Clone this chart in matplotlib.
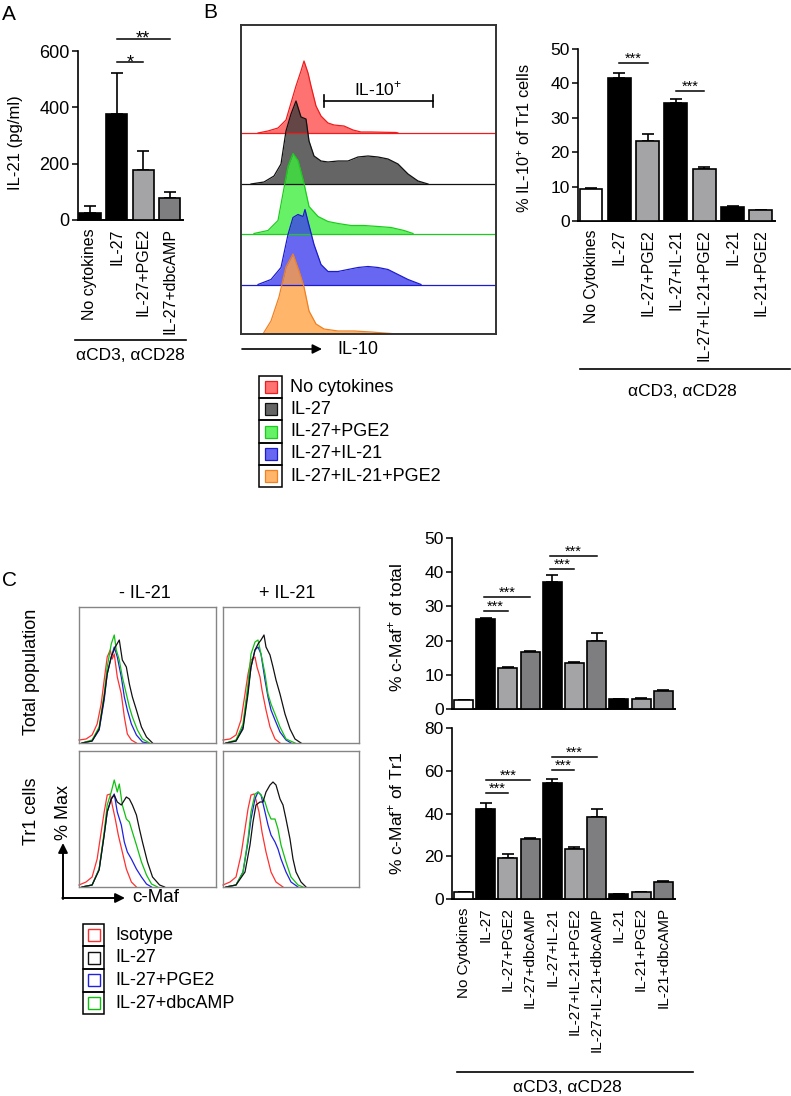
import matplotlib.pyplot as plt
import matplotlib.transforms as mtrans
import matplotlib.colors as mcolors
from matplotlib.patches import Rectangle
import numpy as np

plt.rcParams['font.family'] = ['Liberation Sans', 'DejaVu Sans']
plt.rcParams['mathtext.fontset'] = 'custom'
plt.rcParams['mathtext.rm'] = 'Liberation Sans'
plt.rcParams['axes.linewidth'] = 1.1

W, H = 791, 1096
fig = plt.figure(figsize=(W / 100, H / 100), dpi=100)

LIGHT = '#a4a4a7'
MID = '#7e7e80'

# ---- panel A : IL-21 ELISA ----
a_groups = ['No cytokines', 'IL-27', 'IL-27+PGE2', 'IL-27+dbcAMP']
a_mean = [24, 375, 176, 78]
a_err = [27, 148, 70, 21]
a_colors = ['black', 'black', LIGHT, MID]

# ---- panel B : IL-10 histograms (channel, count) ----
hb_nocyt_x = [17, 27, 37, 45, 50, 55, 60, 63, 67, 70, 75, 80, 87, 93, 103, 112, 120, 130, 155, 157]
hb_nocyt_y = [0, 2, 5, 13, 30, 47, 62, 72, 60, 47, 27, 17, 10, 8, 7, 3, 1, 1, 0.5, 0]
hb_il27_x = [10, 23, 33, 40, 45, 50, 55, 60, 65, 68, 73, 80, 87, 97, 107, 117, 127, 137, 147, 157, 167, 177, 187]
hb_il27_y = [0, 2, 8, 20, 53, 70, 83, 67, 65, 43, 28, 23, 22, 23, 23, 27, 28, 27, 25, 20, 10, 3, 0]
hb_pge2_x = [13, 27, 37, 42, 47, 52, 57, 63, 68, 77, 87, 97, 110, 123, 137, 150, 163, 172]
hb_pge2_y = [0, 3, 13, 40, 67, 80, 73, 50, 27, 17, 12, 10, 8, 8, 7, 6, 3, 0]
hb_il21_x = [17, 30, 40, 47, 52, 57, 62, 64, 67, 73, 80, 87, 97, 107, 117, 127, 137, 147, 157, 167, 180]
hb_il21_y = [0, 5, 17, 50, 67, 70, 68, 75, 63, 40, 20, 13, 13, 15, 17, 18, 17, 15, 10, 5, 0]
hb_il21pge2_x = [22, 30, 38, 45, 52, 58, 63, 68, 75, 83, 97, 113, 130, 143, 157]
hb_il21pge2_y = [0, 13, 37, 67, 80, 63, 47, 23, 10, 5, 3, 3, 2, 1, 0]
hb_labels = ['No cytokines', 'IL-27', 'IL-27+PGE2', 'IL-27+IL-21', 'IL-27+IL-21+PGE2']
hb_fill = ['#ff4a4a', '#3a3a3a', '#3cee3c', '#3c3cee', '#ffa040']
hb_line = ['#ee1c1c', '#111111', '#1ccc1c', '#1c1ccc', '#f08020']

# ---- panel B : % IL-10+ of Tr1 ----
b_groups = ['No Cytokines', 'IL-27', 'IL-27+PGE2', 'IL-27+IL-21', 'IL-27+IL-21+PGE2', 'IL-21', 'IL-21+PGE2']
b_mean = [9.4, 41.6, 23.4, 34.2, 15.2, 4.1, 3.1]
b_err = [0.1, 1.5, 1.8, 1.3, 0.5, 0.3, 0.0]
b_colors = ['white', 'black', LIGHT, 'black', LIGHT, 'black', LIGHT]

# ---- panel C : c-Maf histograms (channel, %max) ----
# total population, - IL-21
ctm_iso_x = [0, 7, 13, 18, 22, 25, 28, 31, 33, 35, 38, 42, 45, 48, 52, 57]
ctm_iso_y = [3, 4, 8, 19, 39, 63, 86, 93, 84, 89, 66, 49, 26, 9, 3, 0]
ctm_il27_x = [3, 13, 20, 25, 28, 32, 36, 40, 43, 47, 50, 53, 57, 62, 67, 73]
ctm_il27_y = [0, 2, 14, 46, 69, 86, 96, 103, 83, 76, 59, 46, 33, 16, 6, 0]
ctm_pge2_x = [3, 13, 20, 25, 28, 32, 35, 38, 42, 45, 48, 52, 57, 63, 68]
ctm_pge2_y = [0, 2, 13, 43, 69, 86, 96, 86, 66, 46, 33, 19, 8, 1, 0]
ctm_dbc_x = [3, 13, 20, 25, 28, 32, 35, 37, 40, 43, 47, 50, 53, 58, 63, 70]
ctm_dbc_y = [0, 3, 16, 49, 76, 99, 108, 93, 83, 66, 49, 36, 26, 13, 4, 0]
# total population, + IL-21
ctp_iso_x = [0, 7, 13, 18, 22, 25, 28, 32, 34, 37, 39, 43, 47, 52, 57]
ctp_iso_y = [3, 4, 8, 23, 49, 69, 83, 86, 76, 66, 53, 33, 16, 4, 0]
ctp_il27_x = [3, 13, 20, 25, 28, 32, 35, 38, 41, 43, 47, 50, 53, 57, 62, 67, 72, 78]
ctp_il27_y = [0, 2, 14, 49, 76, 93, 99, 103, 108, 96, 88, 76, 63, 49, 29, 14, 4, 0]
ctp_pge2_x = [3, 13, 20, 25, 28, 32, 35, 38, 42, 45, 48, 52, 57, 63, 68]
ctp_pge2_y = [0, 2, 16, 53, 76, 93, 96, 89, 63, 46, 33, 23, 11, 3, 0]
ctp_dbc_x = [3, 13, 20, 25, 28, 32, 35, 38, 42, 45, 48, 52, 57, 63, 72]
ctp_dbc_y = [0, 3, 19, 59, 89, 101, 103, 89, 69, 49, 39, 29, 16, 4, 0]
# Tr1 cells, - IL-21
crm_iso_x = [0, 7, 13, 18, 22, 25, 28, 31, 33, 36, 39, 43, 47, 52, 57]
crm_iso_y = [2, 5, 10, 28, 55, 75, 92, 93, 82, 68, 52, 35, 18, 5, 0]
crm_il27_x = [3, 13, 20, 25, 28, 32, 35, 38, 42, 47, 50, 53, 57, 60, 63, 68, 73, 80, 85]
crm_il27_y = [0, 2, 17, 52, 75, 88, 92, 85, 82, 90, 88, 82, 72, 58, 45, 25, 10, 2, 0]
crm_pge2_x = [3, 13, 20, 25, 28, 32, 35, 38, 42, 45, 48, 52, 57, 62, 67, 72]
crm_pge2_y = [0, 2, 18, 52, 75, 88, 93, 75, 62, 45, 35, 28, 18, 10, 3, 0]
crm_dbc_x = [3, 13, 20, 25, 28, 32, 35, 38, 40, 43, 47, 50, 53, 57, 62, 67, 72, 78]
crm_dbc_y = [0, 2, 18, 55, 82, 95, 107, 95, 103, 82, 68, 65, 55, 42, 25, 12, 3, 0]
# Tr1 cells, + IL-21
crp_iso_x = [0, 7, 13, 18, 22, 25, 28, 31, 33, 36, 39, 43, 48, 53, 60]
crp_iso_y = [2, 5, 10, 32, 58, 78, 92, 93, 87, 75, 55, 35, 15, 5, 0]
crp_il27_x = [3, 13, 22, 27, 30, 33, 37, 40, 43, 47, 50, 53, 57, 60, 63, 67, 70, 73, 78, 83]
crp_il27_y = [0, 2, 15, 42, 65, 82, 85, 85, 95, 102, 105, 102, 88, 82, 68, 48, 28, 15, 5, 0]
crp_pge2_x = [3, 13, 20, 25, 28, 32, 35, 38, 42, 45, 48, 52, 55, 58, 63, 68, 75]
crp_pge2_y = [0, 2, 15, 45, 68, 88, 95, 92, 75, 62, 52, 45, 38, 28, 15, 5, 0]
crp_dbc_x = [3, 13, 20, 25, 28, 32, 35, 38, 42, 45, 48, 52, 55, 58, 63, 68, 75, 80]
crp_dbc_y = [0, 2, 15, 48, 75, 93, 95, 92, 85, 75, 68, 68, 58, 42, 25, 10, 2, 0]
hc_labels = ['Isotype', 'IL-27', 'IL-27+PGE2', 'IL-27+dbcAMP']
hc_colors = ['#ff3030', '#111111', '#2020e0', '#10c010']

# ---- panel C : % c-Maf+ ----
c_groups = ['No Cytokines', 'IL-27', 'IL-27+PGE2', 'IL-27+dbcAMP', 'IL-27+IL-21',
            'IL-27+IL-21+PGE2', 'IL-27+IL-21+dbcAMP', 'IL-21', 'IL-21+PGE2', 'IL-21+dbcAMP']
c_total_mean = [2.5, 26.3, 11.9, 16.7, 37.1, 13.4, 19.9, 2.9, 3.0, 5.3]
c_total_err = [0.2, 0.2, 0.5, 0.3, 2.1, 0.4, 2.3, 0.1, 0.2, 0.4]
c_tr1_mean = [3.3, 42.1, 19.4, 28.0, 54.3, 23.4, 38.4, 2.2, 3.1, 8.0]
c_tr1_err = [0.2, 2.8, 1.7, 0.4, 1.8, 0.9, 3.8, 0.2, 0.2, 0.3]
c_colors = ['white', 'black', LIGHT, MID, 'black', LIGHT, MID, 'black', LIGHT, MID]


def px_axes(x0, y0, x1, y1):
    return fig.add_axes([x0 / W, 1 - y1 / H, (x1 - x0) / W, (y1 - y0) / H])


def bar_panel(ax, means, errs, colors, width, ymax, step, tick_fs):
    x = np.arange(len(means))
    ax.bar(x, means, width=width, color=colors, edgecolor='black', linewidth=1.2, zorder=3)
    ax.errorbar(x, means, yerr=[np.zeros(len(errs)), errs], fmt='none', ecolor='black',
                elinewidth=1.2, capsize=4, capthick=1.2, zorder=2)
    ax.set_ylim(0, ymax)
    ax.set_yticks(np.arange(0, ymax + 1, step))
    for s in ['top', 'right']:
        ax.spines[s].set_visible(False)
    ax.spines['left'].set_linewidth(1.2)
    ax.spines['bottom'].set_linewidth(1.4)
    ax.tick_params(axis='y', direction='out', length=4, width=1.1, labelsize=tick_fs, pad=2)
    ax.tick_params(axis='x', length=0)


def sig(ax, i, j, y, txt, fs, dy=0):
    ax.plot([i, j], [y, y], color='black', lw=1.1, clip_on=False)
    tr = mtrans.offset_copy(ax.transData, fig=fig, x=0, y=dy, units='points')
    ax.text((i + j) / 2, y, txt, ha='center', va='baseline', fontsize=fs,
            transform=tr, clip_on=False)


# ---------- A ----------
axA = px_axes(78, 51, 183, 220)
bar_panel(axA, a_mean, a_err, a_colors, 0.79, 600, 200, 13)
axA.set_xlim(-0.45, 3.49)
axA.set_xticks(range(len(a_groups)))
axA.set_xticklabels(a_groups, rotation=90, fontsize=11.5)
axA.tick_params(axis='x', pad=6)
axA.set_ylabel('IL-21 (pg/ml)', fontsize=12)
axA.yaxis.set_label_coords(-0.52, 0.46)
sig(axA, 1, 2, 560, '*', 13, dy=-4)
sig(axA, 1, 3, 643, '**', 13, dy=-3)

# ---------- B histogram ----------
hb = px_axes(241, 25, 496, 334)
hb.set_xlim(0, 255)
hb.set_ylim(0, 309)
hb.set_xticks([])
hb.set_yticks([])
for s in hb.spines.values():
    s.set_linewidth(1.4)
    s.set_color('#333333')
hb_curves = [(hb_nocyt_x, hb_nocyt_y), (hb_il27_x, hb_il27_y), (hb_pge2_x, hb_pge2_y),
             (hb_il21_x, hb_il21_y), (hb_il21pge2_x, hb_il21pge2_y)]
bases = [201, 150, 100.5, 49.5, 0]
for (xs, ys), base, fc, lc in zip(hb_curves, bases, hb_fill, hb_line):
    top = base + np.array(ys, dtype=float)
    hb.axhline(base, color=lc, lw=0.9)
    hb.fill_between(xs, base, top, color=fc, alpha=0.78, lw=0)
    hb.plot(xs, top, color=lc, lw=0.9)
hb.plot([83, 192], [233, 233], color='black', lw=1.2)
hb.plot([83, 83], [227, 239], color='black', lw=1.2)
hb.plot([192, 192], [227, 239], color='black', lw=1.2)
hb.text(137.5, 239, 'IL-10$^{+}$', ha='center', va='baseline', fontsize=12.5)

# ---------- B bars ----------
axB = px_axes(578, 49, 775, 221)
bar_panel(axB, b_mean, b_err, b_colors, 0.81, 50, 10, 12.5)
axB.set_xlim(-0.46, 6.5)
axB.set_xticks(range(len(b_groups)))
axB.set_xticklabels(b_groups, rotation=90, fontsize=11.3)
axB.tick_params(axis='x', pad=6)
axB.set_ylabel('% IL-10$^{+}$ of Tr1 cells', fontsize=11.8)
axB.yaxis.set_label_coords(-0.226, 0.48)
sig(axB, 1, 2, 45.9, '***', 10.5)
sig(axB, 3, 4, 37.8, '***', 10.5)

# ---------- C histograms ----------
hc_sets = [
    ((79, 607, 216, 743), [(ctm_iso_x, ctm_iso_y), (ctm_il27_x, ctm_il27_y), (ctm_pge2_x, ctm_pge2_y), (ctm_dbc_x, ctm_dbc_y)]),
    ((223, 607, 359, 743), [(ctp_iso_x, ctp_iso_y), (ctp_il27_x, ctp_il27_y), (ctp_pge2_x, ctp_pge2_y), (ctp_dbc_x, ctp_dbc_y)]),
    ((79, 751, 216, 887), [(crm_iso_x, crm_iso_y), (crm_il27_x, crm_il27_y), (crm_pge2_x, crm_pge2_y), (crm_dbc_x, crm_dbc_y)]),
    ((223, 751, 359, 887), [(crp_iso_x, crp_iso_y), (crp_il27_x, crp_il27_y), (crp_pge2_x, crp_pge2_y), (crp_dbc_x, crp_dbc_y)]),
]
for box, curves in hc_sets:
    ax = px_axes(*box)
    ax.set_xlim(0, 136)
    ax.set_ylim(0, 136)
    ax.set_xticks([])
    ax.set_yticks([])
    for s in ax.spines.values():
        s.set_linewidth(1.0)
        s.set_color('#858585')
    for k in [0, 2, 3, 1]:
        xs, ys = curves[k]
        ax.plot(xs, ys, color=hc_colors[k], lw=0.9, clip_on=False)

# ---------- C bars ----------
axCt = px_axes(452, 538, 675, 709)
bar_panel(axCt, c_total_mean, c_total_err, c_colors, 0.86, 50, 10, 12.5)
axCt.set_xlim(-0.52, 9.53)
axCt.set_xticks([])
axCt.set_ylabel('% c-Maf$^{+}$ of total', fontsize=12.5)
axCt.yaxis.set_label_coords(-0.21, 0.48)
sig(axCt, 0.9, 2, 28.7, '***', 10.5)
sig(axCt, 0.9, 3, 32.8, '***', 10.5)
sig(axCt, 3.9, 5, 41.0, '***', 10.5)
sig(axCt, 3.9, 6, 44.7, '***', 10.5)

axCb = px_axes(452, 728, 675, 899)
bar_panel(axCb, c_tr1_mean, c_tr1_err, c_colors, 0.86, 80, 20, 12.5)
axCb.set_xlim(-0.52, 9.53)
axCb.set_xticks(range(len(c_groups)))
axCb.set_xticklabels(c_groups, rotation=90, fontsize=11)
axCb.tick_params(axis='x', pad=6)
axCb.set_ylabel('% c-Maf$^{+}$ of Tr1', fontsize=12.5)
axCb.yaxis.set_label_coords(-0.21, 0.5)
sig(axCb, 1, 2, 49.6, '***', 10.5)
sig(axCb, 1, 3, 55.7, '***', 10.5)
sig(axCb, 4, 5, 60.4, '***', 10.5)
sig(axCb, 4, 6, 66.6, '***', 10.5)

# ---------- overlay : letters, legends, arrows ----------
ov = fig.add_axes([0, 0, 1, 1], zorder=10)
ov.set_xlim(0, W)
ov.set_ylim(H, 0)
ov.axis('off')

ov.text(2, 15, 'A', fontsize=15, va='center', ha='left')
ov.text(203, 12, 'B', fontsize=15, va='center', ha='left')
ov.text(2, 580, 'C', fontsize=15, va='center', ha='left')

# group lines
ov.plot([75, 186], [340, 340], color='black', lw=1.2)
ov.text(130, 356, '\u03b1CD3, \u03b1CD28', ha='center', va='center', fontsize=12.5)
ov.plot([580, 790], [369, 369], color='black', lw=1.2)
ov.text(682, 391, '\u03b1CD3, \u03b1CD28', ha='center', va='center', fontsize=12.5)
ov.plot([457, 693], [1072, 1072], color='black', lw=1.2)
ov.text(567, 1088, '\u03b1CD3, \u03b1CD28', ha='center', va='center', fontsize=12.5)

# IL-10 arrow
ov.annotate('', xy=(322, 349), xytext=(242, 349),
            arrowprops=dict(arrowstyle='-|>', color='black', lw=1.2, mutation_scale=14,
                            shrinkA=0, shrinkB=0))
ov.text(337, 349, 'IL-10', ha='left', va='center', fontsize=13)

# legend B
for k, lab in enumerate(hb_labels):
    yc = 387 + 22.3 * k
    ov.add_patch(Rectangle((259, yc - 11.15), 23, 22.3, fill=False, ec='black', lw=1.1))
    ov.add_patch(Rectangle((264.5, yc - 6), 12, 12, fc=mcolors.to_rgba(hb_fill[k], 0.78),
                           ec=hb_line[k], lw=0.9))
    ov.text(290, yc, lab, ha='left', va='center', fontsize=13)

# C labels
ov.text(145, 593, '- IL-21', ha='center', va='center', fontsize=13)
ov.text(287, 593, '+ IL-21', ha='center', va='center', fontsize=13)
ov.text(31, 672, 'Total population', ha='center', va='center', rotation=90, fontsize=13)
ov.text(31, 811, 'Tr1 cells', ha='center', va='center', rotation=90, fontsize=13)
ov.text(63, 812, '% Max', ha='center', va='center', rotation=90, fontsize=13)
ov.annotate('', xy=(63, 843), xytext=(63, 899),
            arrowprops=dict(arrowstyle='-|>', color='black', lw=1.4, mutation_scale=14,
                            shrinkA=0, shrinkB=0))
ov.annotate('', xy=(125, 898), xytext=(62.3, 898),
            arrowprops=dict(arrowstyle='-|>', color='black', lw=1.4, mutation_scale=14,
                            shrinkA=0, shrinkB=0))
ov.text(132, 897, 'c-Maf', ha='left', va='center', fontsize=13.5)

# legend C
for k, lab in enumerate(hc_labels):
    yc = 935 + 22.7 * k
    ov.add_patch(Rectangle((83, yc - 11.35), 21, 22.7, fill=False, ec='black', lw=1.1))
    ov.add_patch(Rectangle((87.5, yc - 6), 12, 12, fill=False, ec=hc_colors[k], lw=1.0))
    ov.text(115, yc, lab, ha='left', va='center', fontsize=13)

fig.savefig('out.png', dpi=100)
